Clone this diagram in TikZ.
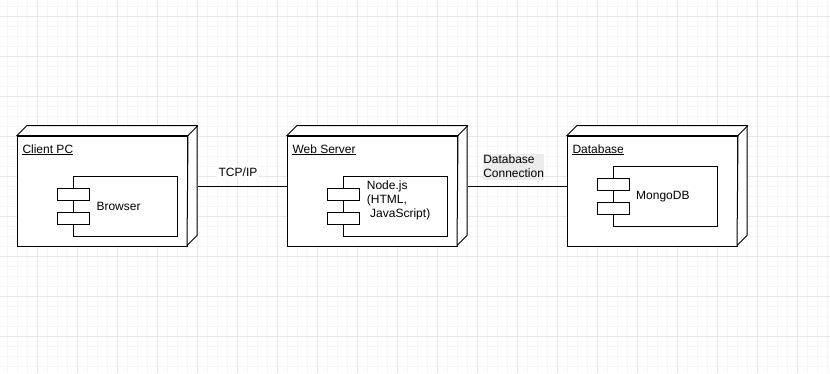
\documentclass[tikz,border=0pt]{standalone}
\usepackage{fontspec}
\setmainfont{Liberation Sans}
\usetikzlibrary{calc}
\definecolor{gridminor}{RGB}{246,246,246}
\definecolor{gridmajor}{RGB}{231,231,231}
\definecolor{labelbg}{RGB}{236,236,236}
\tikzset{
  ln/.style={line width=1pt, line join=miter},
  devnode/.style={ln, draw, fill=white, minimum width=170pt, minimum height=110pt, inner sep=0pt},
  comp/.style={ln, draw, fill=white, minimum width=104pt, minimum height=60pt, inner sep=0pt},
  port/.style={ln, draw, fill=white, minimum width=32pt, minimum height=11.5pt, inner sep=0pt},
  txt/.style={font=\fontsize{12}{14}\selectfont, inner sep=0pt, text=black},
  title/.style={txt, anchor=base west},
  link/.style={ln, draw},
}
% 3D box drawn behind a device node: top and right faces
\newcommand{\devdepth}[1]{%
  \draw[ln, fill=white] (#1.north west) -- ++(10,-10) -- ++(170,0) -- ++(0,110) -- ++(-10,10) -- (#1.north east) -- cycle;
  \draw[ln] (#1.north east) -- ++(10,-10);
}
\newcommand{\uline}[1]{%
  \draw[line width=0.8pt] ([yshift=-1.6pt]#1.base west) -- ([yshift=-1.6pt]#1.base east);
}
\begin{document}
\begin{tikzpicture}[x=1pt, y=-1pt]
  \useasboundingbox (0,0) rectangle (830,373);
  % background grid
  \foreach \gx in {7,17,...,827} \draw[gridminor, line width=0.8pt] (\gx,0) -- (\gx,373);
  \foreach \gy in {6,16,...,370} \draw[gridminor, line width=0.8pt] (0,\gy) -- (830,\gy);
  \foreach \gx in {37,77,...,827} \draw[gridmajor, line width=0.8pt] (\gx,0) -- (\gx,373);
  \foreach \gy in {16,56,...,370} \draw[gridmajor, line width=0.8pt] (0,\gy) -- (830,\gy);

  % device nodes
  \node[devnode] (pc) at (102.5,191) {};
  \node[devnode] (ws) at (372.5,191) {};
  \node[devnode] (db) at (652.5,191) {};
  \devdepth{pc}
  \devdepth{ws}
  \devdepth{db}

  % titles
  \node[title] (pct) at (22.3,153) {Client PC};
  \node[title] (wst) at (292.3,153) {Web Server};
  \node[title] (dbt) at (572.3,153) {Database};
  \uline{pct}
  \uline{wst}
  \uline{dbt}

  % components
  \node[comp] (browser) at (125.3,206) {};
  \node[port] at (73.3,194.3) {};
  \node[port] at (73.3,218.3) {};
  \node[txt, anchor=west] at (96.3,206) {Browser};

  \node[comp] (node) at (395.3,206) {};
  \node[port] at (343.3,194.3) {};
  \node[port] at (343.3,218.3) {};
  \node[txt, anchor=north west, align=left] at (366.7,180.2) {Node.js\\(HTML,\\\hspace*{3.33pt}JavaScript)};

  \node[comp] (mongo) at (665.3,196.5) {};
  \node[port] at (613.3,184.3) {};
  \node[port] at (613.3,208.3) {};
  \node[txt, anchor=west] at (636,196.3) {MongoDB};

  % connections
  \draw[link] ([xshift=10pt,yshift=5pt]pc.east) -- ([yshift=5pt]ws.west);
  \draw[link] ([xshift=10pt,yshift=5pt]ws.east) -- ([yshift=5pt]db.west);
  \node[txt, fill=white, inner sep=1.5pt] (tcp) at (238,172.3) {TCP/IP};
  \node[txt, fill=labelbg, inner xsep=0.3pt, inner ysep=1.6pt, anchor=north west, align=left] (dbc) at (482.8,153.4) {Database\\Connection};
\end{tikzpicture}
\end{document}
